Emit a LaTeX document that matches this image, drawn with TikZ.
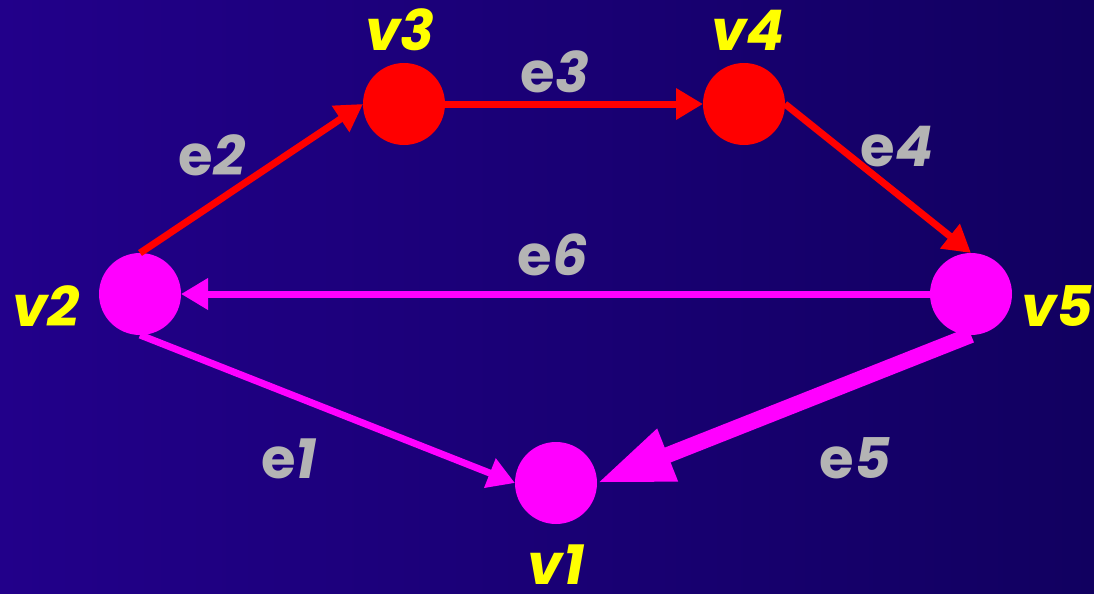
\documentclass[tikz,border=0pt]{standalone}
\usepackage{fontspec}
\newfontfamily\pf{Poppins}
\usetikzlibrary{arrows.meta}
\definecolor{bgL}{RGB}{34,0,138}
\definecolor{bgR}{RGB}{17,0,96}
\definecolor{lab}{RGB}{180,180,180}
\definecolor{vy}{RGB}{255,255,0}
\definecolor{mag}{RGB}{255,0,255}
\definecolor{rd}{RGB}{255,0,0}
\tikzset{
  vert/.style={circle, minimum size=41pt, inner sep=0pt, outer sep=0pt, fill=#1},
  vlab/.style={text=vy, font=\pf\fontsize{28}{30}\selectfont\bfseries\itshape, inner sep=0pt, anchor=base, text depth=0pt},
  elab/.style={text=lab, font=\pf\fontsize{28}{30}\selectfont\bfseries, inner sep=0pt, anchor=base, text depth=0pt},
  thin arrow/.style={draw=#1, line width=3.5pt, -{Triangle[length=13.5pt,width=15pt]}, #1},
}
\begin{document}
\begin{tikzpicture}[x=0.5pt,y=-0.5pt]
\useasboundingbox (0,0) rectangle (1094,594);
\shade[left color=bgL, right color=bgR] (0,0) rectangle (1094,594);
% vertices
\node[vert=rd]  (v3) at (404,104) {};
\node[vert=rd]  (v4) at (744,104) {};
\node[vert=mag] (v2) at (140,294) {};
\node[vert=mag] (v5) at (971,294) {};
\node[vert=mag] (v1) at (556,483) {};
% edges
\draw[thin arrow=rd]  (v2.north) -- (v3.west);
\draw[thin arrow=rd]  (v3.east) -- (v4.west);
\draw[thin arrow=rd]  (v4.east) -- (v5.north);
\draw[thin arrow=mag] (v5.west) -- (v2.east);
\draw[thin arrow=mag] (v2.south) -- (v1.west);
\draw[draw=mag, fill=mag, line width=8pt, -{Triangle[length=38pt,width=26pt]}] (v5.south) -- (v1.east);
% vertex labels
\node[vlab] (l3) at (400,50) {v3};
\node[vlab] (l4) at (748,50) {v4};
\node[vlab] (l2) at (46,326) {v2};
\node[vlab] (l5) at (1057,326) {v5};
\node[vlab] (l1) at (556,584) {v1};
% edge labels
\node[elab] (le2) at (212,175) {e\textit{2}};
\node[elab] (le3) at (555,92) {e\textit{3}};
\node[elab] (le4) at (897,166) {e\textit{4}};
\node[elab] (le6) at (553,275) {e\textit{6}};
\node[elab] (le1) at (289,478) {e\textit{1}};
\node[elab] (le5) at (855,478) {e\textit{5}};
\end{tikzpicture}
\end{document}
